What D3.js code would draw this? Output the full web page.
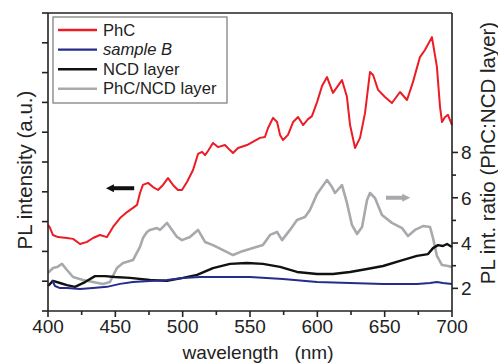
<!DOCTYPE html>
<html>
<head>
<meta charset="utf-8">
<script src="https://d3js.org/d3.v7.min.js"></script>
<style>
    body { margin: 0; background: #fff; }
    svg { font-family: Arial, "Liberation Sans", sans-serif; }
    .tick-label { font-size: 19px; fill: #222; }
    .axis-title { font-size: 20.5px; fill: #222; }
    .legend-text { font-size: 16.6px; fill: #222; }
</style>
</head>
<body>
<svg width="498" height="364"></svg>
<script>
    // wavelength (nm) / PL intensity (a.u.) for the PhC sample
    const phcWl = [400, 401.5, 403.7, 407.4, 414.1, 418.6, 423.8, 429, 433.4, 438.6, 443.8, 448.3, 453.5, 458.7,
        463.1, 466.1, 468.3, 470.5, 474.3, 478, 481.7, 485.4, 489.1, 492.8, 496.5, 499.5, 503.2, 507.7, 511.4,
        514.4, 516.6, 518.8, 522.5, 526.2, 531.4, 535.1, 537.4, 541.1, 547.8, 557.4, 561.1, 563.4, 567.1, 570.1,
        572.3, 574.5, 578.2, 582, 585.7, 589.4, 593.1, 596, 599.8, 603.5, 607.2, 611.6, 618.3, 622, 624.3, 628,
        631.7, 635.4, 639.1, 641.4, 645.1, 650.2, 655.4, 661.4, 666.6, 671, 676.2, 679.9, 685.1, 688.8, 691.1,
        692.6, 694.8, 697, 700];
    const phcVal = [2.89, 2.79, 2.55, 2.48, 2.45, 2.42, 2.25, 2.32, 2.45, 2.55, 2.48, 2.82, 3.12, 3.32,
        3.46, 3.56, 3.96, 4.23, 4.30, 4.16, 4.06, 4.23, 4.46, 4.23, 4.06, 4.06, 4.33, 4.73, 5.27,
        5.34, 5.23, 5.37, 5.64, 5.50, 5.57, 5.40, 5.30, 5.47, 5.57, 5.81, 5.84, 6.14, 6.48, 6.34,
        5.91, 5.74, 5.91, 6.34, 6.51, 6.24, 6.44, 6.54, 7.01, 7.55, 7.85, 7.32, 7.75, 7.18, 6.24, 5.47,
        5.81, 6.64, 8.02, 7.92, 7.42, 7.18, 6.98, 7.35, 7.08, 7.68, 8.52, 8.76, 9.19, 8.19, 6.85,
        6.34, 6.51, 6.58, 6.24];

    // sample B
    const sbWl = [403, 405.2, 408.9, 414.1, 423.8, 433.4, 443.8, 453.5, 463.1, 475.7, 488.4, 500.2, 512.9,
        525.5, 550, 574.5, 599.8, 624.3, 648.8, 674, 683.7, 688.8, 693.3, 700];
    const sbVal = [1.04, 0.84, 0.77, 0.77, 0.74, 0.77, 0.81, 0.91, 0.97, 1.01, 1.04, 1.11, 1.14,
        1.14, 1.14, 1.07, 0.97, 0.94, 0.91, 0.91, 0.94, 0.97, 0.94, 0.91];

    // NCD layer
    const ncdWl = [400, 403.7, 408.9, 414.1, 420, 427.5, 434.9, 442.3, 449.7, 460.9, 475.7, 488.4, 500.2,
        510.7, 522.5, 535.1, 547.8, 559.6, 572.3, 584.9, 599.8, 611.6, 624.3, 636.9, 648.8, 661.4, 674,
        682.2, 685.9, 689.6, 693.3, 696.3, 700];
    const ncdVal = [0.84, 1.01, 0.94, 0.87, 0.81, 0.97, 1.17, 1.17, 1.14, 1.11, 1.04, 1.01, 1.11,
        1.21, 1.44, 1.58, 1.61, 1.58, 1.48, 1.31, 1.24, 1.24, 1.31, 1.41, 1.51, 1.68, 1.85,
        1.91, 2.11, 2.21, 2.18, 2.25, 2.15];

    // PhC/NCD layer -> PL int. ratio (right axis)
    const ratioWl = [400, 403.7, 406.7, 410.4, 414.1, 418.6, 426, 433.4, 440.8, 446, 451.2, 455.7, 463.1,
        468.3, 470.5, 473.5, 475.7, 480.9, 483.2, 488.4, 492.1, 495.8, 499.5, 505.4, 511.4, 516.6, 522.5,
        530, 537.4, 542.6, 552.2, 559.6, 564.9, 570.1, 573.8, 579.7, 584.9, 590.8, 594.5, 599.8, 603.5,
        607.2, 610.9, 613.1, 618.3, 622, 625.7, 629.5, 633.2, 636.9, 639.1, 642.8, 648, 655.4, 662.9,
        667.3, 672.5, 678.5, 683.7, 685.9, 688.8, 692.6, 697, 700];
    const ratioVal = [2.68, 2.90, 2.94, 3.08, 2.81, 2.50, 2.37, 2.28, 2.19, 2.28, 2.90, 3.12, 3.25,
        3.83, 4.22, 4.49, 4.58, 4.66, 4.58, 4.89, 4.58, 4.27, 4.13, 4.27, 4.58, 4.05, 3.91,
        3.69, 3.47, 3.60, 3.78, 3.91, 4.36, 4.49, 4.13, 4.58, 5.02, 5.15, 5.46, 6.17, 6.47,
        6.78, 6.47, 6.21, 6.56, 5.77, 4.80, 4.40, 4.71, 5.90, 6.21, 5.99, 5.24, 4.89, 4.66,
        4.31, 4.58, 4.75, 4.71, 4.22, 3.43, 3.03, 2.99, 2.94];

    const xTicks = [400, 450, 500, 550, 600, 650, 700];
    const xMinor = [425, 475, 525, 575, 625, 675];
    const leftTicks = [0, 1, 2, 3, 4, 5, 6, 7, 8, 9, 10];
    const rightTicks = [2, 4, 6, 8];
    const rightMinor = [3, 5, 7];

    const series = [
        { name: 'PhC', wl: phcWl, val: phcVal, color: '#ec1c24', w: 2, axis: 'left' },
        { name: 'sample B', wl: sbWl, val: sbVal, color: '#262c8c', w: 2, axis: 'left', italic: true },
        { name: 'NCD layer', wl: ncdWl, val: ncdVal, color: '#111111', w: 2.4, axis: 'left' },
        { name: 'PhC/NCD layer', wl: ratioWl, val: ratioVal, color: '#a7a9ac', w: 2.6, axis: 'right' }
    ];

    const L = 48, R = 452, T = 13, B = 311;
    const svg = d3.select('svg');

    const x = d3.scaleLinear().domain([400, 700]).range([L, R]);
    const yL = d3.scaleLinear().domain([0, 10]).range([B, T]);
    const yR = d3.scaleLinear().domain([1, 1 + (B - T) / 22.65]).range([B, T]);

    // curves (draw gray first so others sit on top, as in the original)
    const order = [3, 2, 1, 0];
    order.forEach(function (i) {
        const s = series[i];
        const ys = s.axis == 'left' ? yL : yR;
        const pts = s.wl.map(function (w, j) { return [w, s.val[j]]; });
        svg.append('path')
            .datum(pts)
            .attr('fill', 'none')
            .attr('stroke', s.color)
            .attr('stroke-width', s.w)
            .attr('stroke-linejoin', 'round')
            .attr('d', d3.line().x(function (d) { return x(d[0]); }).y(function (d) { return ys(d[1]); }));
    });

    // frame
    const ax = svg.append('g').attr('stroke', '#222').attr('stroke-width', 1.6).attr('fill', 'none');
    ax.append('line').attr('x1', L).attr('x2', L).attr('y1', T).attr('y2', B);
    ax.append('line').attr('x1', R).attr('x2', R).attr('y1', T).attr('y2', B);
    ax.append('line').attr('x1', L).attr('x2', R).attr('y1', T).attr('y2', T);
    ax.append('line').attr('x1', L).attr('x2', R).attr('y1', B).attr('y2', B);

    // bottom ticks
    xTicks.forEach(function (t) {
        ax.append('line').attr('x1', x(t)).attr('x2', x(t)).attr('y1', B).attr('y2', B + 6);
        svg.append('text').attr('class', 'tick-label').attr('x', x(t)).attr('y', B + 22)
            .attr('text-anchor', 'middle').text(t);
    });
    xMinor.forEach(function (t) {
        ax.append('line').attr('x1', x(t)).attr('x2', x(t)).attr('y1', B).attr('y2', B + 4);
    });

    // left ticks (no labels)
    leftTicks.forEach(function (t) {
        ax.append('line').attr('x1', L - 6).attr('x2', L).attr('y1', yL(t)).attr('y2', yL(t));
    });

    // right ticks
    rightTicks.forEach(function (t) {
        ax.append('line').attr('x1', R).attr('x2', R + 6).attr('y1', yR(t)).attr('y2', yR(t));
        svg.append('text').attr('class', 'tick-label').attr('x', R + 9).attr('y', yR(t))
            .attr('dy', '0.36em').text(t);
    });
    rightMinor.forEach(function (t) {
        ax.append('line').attr('x1', R).attr('x2', R + 4).attr('y1', yR(t)).attr('y2', yR(t));
    });

    // axis titles
    svg.append('text').attr('class', 'axis-title')
        .attr('x', 258).attr('y', 359).attr('text-anchor', 'middle')
        .style('font-size', '19px')
        .style('white-space', 'pre')
        .text('wavelength   (nm)');
    svg.append('text').attr('class', 'axis-title')
        .attr('transform', 'translate(32,170) rotate(-90)')
        .attr('text-anchor', 'middle')
        .text('PL intensity (a.u.)');
    svg.append('text').attr('class', 'axis-title')
        .attr('transform', 'translate(495,153) rotate(-90)')
        .attr('text-anchor', 'middle')
        .text('PL int. ratio (PhC:NCD layer)');

    // arrows
    function arrow(x1, x2, y, color) {
        const dir = x2 > x1 ? 1 : -1;
        svg.append('line').attr('x1', x1).attr('x2', x2 - dir * 6).attr('y1', y).attr('y2', y)
            .attr('stroke', color).attr('stroke-width', 4);
        svg.append('path')
            .attr('d', 'M' + x2 + ',' + y + 'L' + (x2 - dir * 8) + ',' + (y - 4) + 'L' + (x2 - dir * 8) + ',' + (y + 4) + 'Z')
            .attr('fill', color);
    }
    arrow(x(464), x(443), yL(4.12), '#111');
    arrow(x(651), x(669), yR(6.0), '#a7a9ac');

    // legend
    const lg = svg.append('g');
    lg.append('rect').attr('x', 53).attr('y', 17).attr('width', 174).attr('height', 86)
        .attr('fill', '#fff').attr('stroke', '#777').attr('stroke-width', 1.2);
    series.forEach(function (s, i) {
        const yy = 30 + i * 19.6;
        lg.append('line').attr('x1', 58).attr('x2', 97).attr('y1', yy).attr('y2', yy)
            .attr('stroke', s.color).attr('stroke-width', 2.4);
        lg.append('text').attr('class', 'legend-text').attr('x', 103).attr('y', yy + 5.5)
            .style('font-style', s.italic ? 'italic' : 'normal')
            .text(s.name);
    });
</script>
</body>
</html>
